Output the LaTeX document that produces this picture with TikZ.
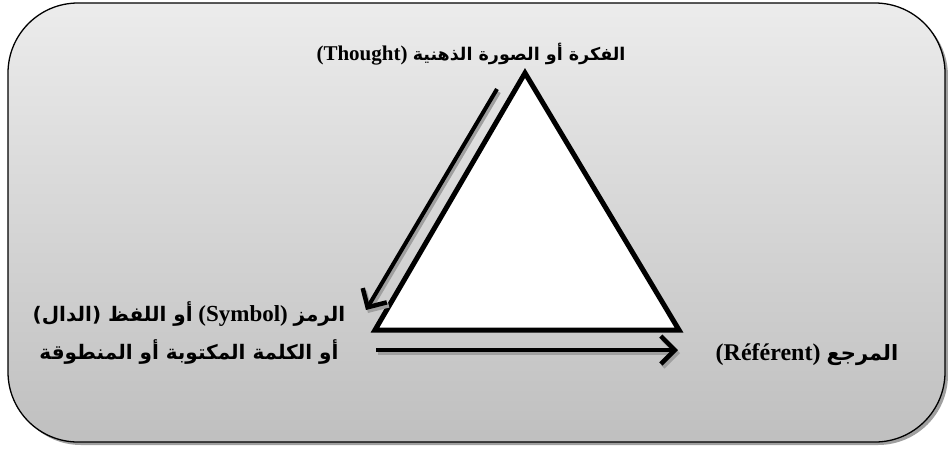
\documentclass[tikz,border=0pt]{standalone}
\usepackage{fontspec}
\setmainfont{Liberation Serif}
\newfontfamily\arabicfont[Script=Arabic]{DejaVu Sans}
\TeXXeTstate=1
\usetikzlibrary{arrows.meta}

\newcommand{\arab}[2][18.5]{{\arabicfont\fontsize{#1}{20}\selectfont #2}}

\tikzset{
    arrowline/.style={line width=4pt,-{Straight Barb[length=14pt,width=28pt,line width=4.5pt]}},
    arrowshadow/.style={arrowline,draw=gray!75},
    txt/.style={font=\bfseries\fontsize{#1}{38}\selectfont,align=center,inner sep=0pt},
    txt/.default=22,
}

\begin{document}
\begin{tikzpicture}[x=1pt,y=-1pt]
    \useasboundingbox (0,0) rectangle (948,448);
    \fill[gray!75,rounded corners=70pt] (11,6) rectangle (948,445);
    \shade[top color=gray!15,bottom color=gray!50,draw=black,line width=1.3pt,rounded corners=70pt] (8,3) rectangle (945,442);

    \coordinate (apex) at (525,73);
    \coordinate (left) at (375,330);
    \coordinate (right) at (679,330);
    \fill[gray!60] ([shift={(2,2)}]apex) -- ([shift={(2,2)}]left) -- ([shift={(2,2)}]right) -- cycle;
    \draw[line width=5pt,fill=white,line join=miter] (apex) -- (left) -- (right) -- cycle;

    \coordinate (a1) at (497,89);
    \coordinate (a2) at (366,310);
    \coordinate (b1) at (376,350);
    \coordinate (b2) at (678,350);
    \foreach \s/\e in {a1/a2, b1/b2}{
        \draw[arrowshadow] ([shift={(2,3)}]\s) -- ([shift={(2,3)}]\e);
        \draw[arrowline] (\s) -- (\e);
    }

    \node[txt=21] (thought) at (471,54) {\beginR\arab[17.5]{الفكرة أو الصورة الذهنية} \beginL(Thought)\endL\endR};
    \node[txt=23] (symbol) at (189,333) {\beginR\arab[20]{الرمز} \beginL(Symbol)\endL{} \arab[20]{أو اللفظ (الدال)}\endR\\
        \beginR\arab[20]{أو الكلمة المكتوبة أو المنطوقة}\endR};
    \node[txt=24] (referent) at (807,355) {\beginR\arab[21]{المرجع} \beginL(Référent)\endL\endR};
\end{tikzpicture}
\end{document}
